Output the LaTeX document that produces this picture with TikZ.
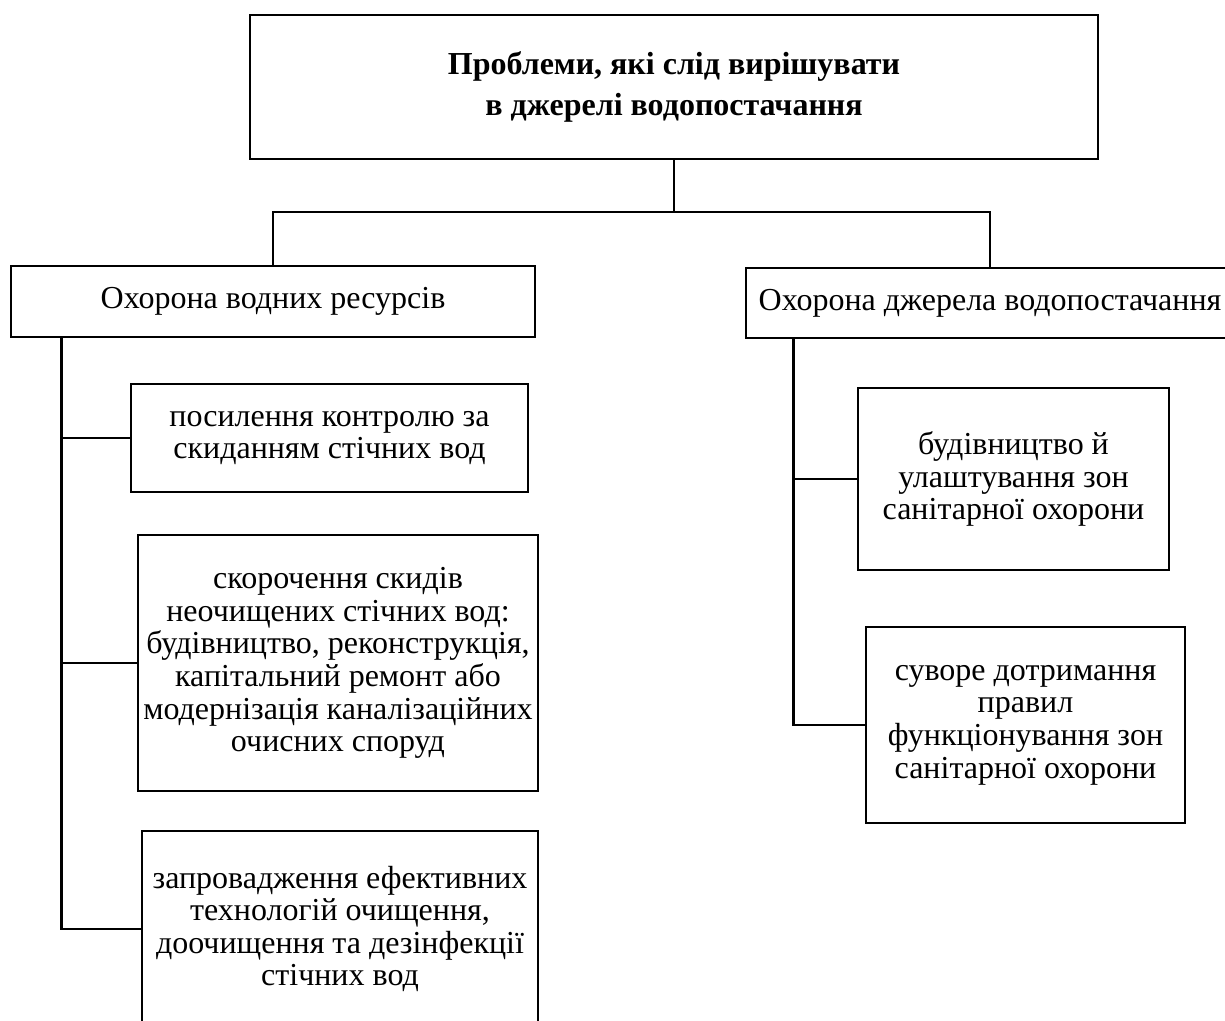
\documentclass[tikz,border=0pt]{standalone}
\usepackage{fontspec}
\setmainfont{Liberation Serif}
\begin{document}
\begin{tikzpicture}[x=0.5pt,y=-0.5pt,
  box/.style={draw, line width=1.3pt, align=center, inner sep=0pt,
    font=\fontsize{16}{16.3}\selectfont},
  conn/.style={line width=1.3pt}]
\useasboundingbox (0,0) rectangle (1225,1021);
\clip (0,0) rectangle (1225,1021);
\node[box, minimum width=424pt, minimum height=72pt,
  font=\bfseries\fontsize{16}{20.5}\selectfont] (top) at (674,87)
  {Проблеми, які слід вирішувати\\в джерелі водопостачання};
\node[box, minimum width=262pt, minimum height=35.5pt] (L) at (273,301.5)
  {Охорона водних ресурсів};
\node[box, minimum width=244pt, minimum height=35pt] (R) at (990,303)
  {Охорона джерела водопостачання};
\node[box, minimum width=198.5pt, minimum height=54pt] (b1) at (329.5,438)
  {посилення контролю за\\скиданням стічних вод};
\node[box, minimum width=200pt, minimum height=128pt] (b2) at (338,663)
  {скорочення скидів\\неочищених стічних вод:\\будівництво, реконструкція,\\капітальний ремонт або\\модернізація каналізаційних\\очисних споруд};
\node[box, minimum width=198pt, minimum height=98pt] (b3) at (340,929)
  {запровадження ефективних\\технологій очищення,\\доочищення та дезінфекції\\стічних вод};
\node[box, minimum width=155.5pt, minimum height=91pt] (r1) at (1013.5,479)
  {будівництво й\\улаштування зон\\санітарної охорони};
\node[box, minimum width=159.5pt, minimum height=98pt] (r2) at (1025.5,725)
  {суворе дотримання\\правил\\функціонування зон\\санітарної охорони};
\coordinate (j) at (674,212);
\draw[conn] (top.south) -- (j);
\draw[conn] (L.north) |- (j) -| (R.north);
\draw[conn] ([xshift=26pt]L.south west) |- (b3.west);
\draw[conn] ([xshift=26pt]L.south west) |- (b1.west);
\draw[conn] ([xshift=26pt]L.south west) |- (b2.west);
\draw[conn] ([xshift=24.5pt]R.south west) |- (r2.west);
\draw[conn] ([xshift=24.5pt]R.south west) |- (r1.west);
\end{tikzpicture}
\end{document}
